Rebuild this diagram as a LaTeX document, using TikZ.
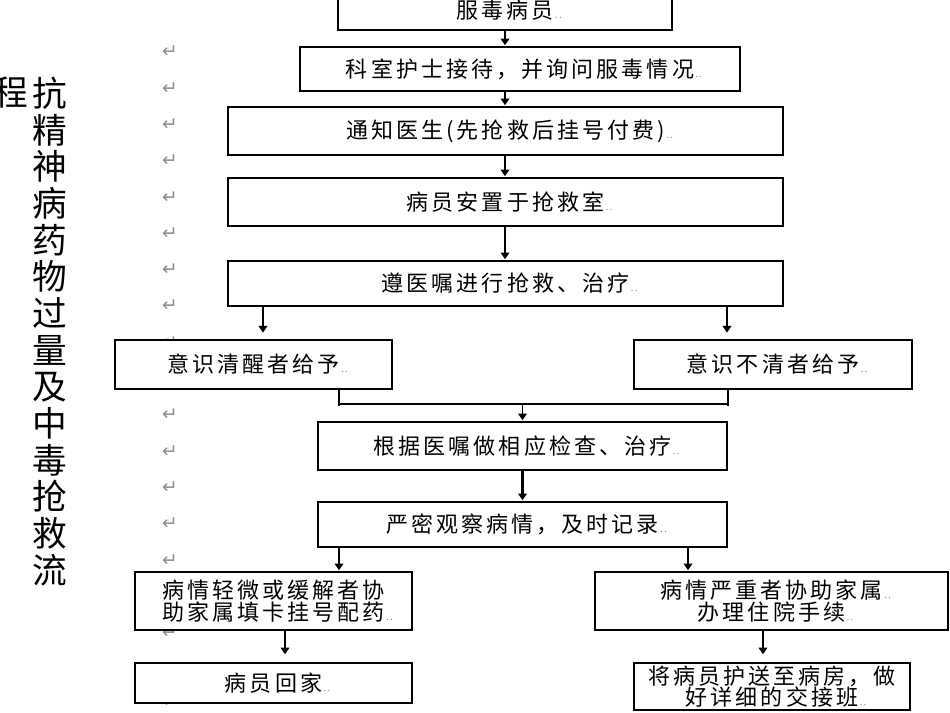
\documentclass[tikz,border=0pt]{standalone}
\usepackage{fontspec}
\setmainfont{Noto Sans CJK SC}
\newfontfamily\boxfont{Noto Sans CJK SC}[LetterSpace=14]
\newfontfamily\symfont{DejaVu Sans}
\usetikzlibrary{arrows.meta}
\tikzset{
  box/.style={draw, line width=1.1pt, fill=white, inner sep=0pt, align=center,
    font=\boxfont\fontsize{16.5}{16.2}\selectfont},
  arr/.style={line width=1.4pt, -{Triangle[width=6.5pt,length=5pt]}, shorten >=0.8pt},
  joinline/.style={line width=1.1pt},
  retmark/.style={font=\symfont\fontsize{14}{14}\selectfont, text=gray!90, inner sep=0pt},
  titletext/.style={font=\fontsize{26}{27.5}\selectfont, align=center, inner sep=0pt},
}
\newcommand\trail{\rlap{\textcolor{gray}{\fontsize{7}{7}\selectfont\,..}}}
\begin{document}
\begin{tikzpicture}[x=0.75pt,y=-0.75pt]
\useasboundingbox (0,0) rectangle (950,713);
% paragraph marks (those fully hidden behind boxes are left out)
\foreach \k in {0,...,8,10,11,12,13,14,16} { \node[retmark] (rm\k) at (170,{52+36.3*\k}) {↵}; }
\node[retmark] (rm18) at (170,702) {↵};
% vertical title
\node[titletext] (title) at (50,331.5) {抗\\精\\神\\病\\药\\物\\过\\量\\及\\中\\毒\\抢\\救\\流};
\node[titletext] (title2) at (11,93) {程};
% boxes
\node[box, minimum width=250.5pt, minimum height=30pt] (b1) at (505,10) {服毒病员\trail};
\node[box, minimum width=330pt, minimum height=33pt] (b2) at (520,69) {科室护士接待，并询问服毒情况\trail};
\node[box, minimum width=416.25pt, minimum height=36pt] (b3) at (505.5,131) {通知医生(先抢救后挂号付费)\trail};
\node[box, minimum width=416.25pt, minimum height=36pt] (b4) at (505.5,202) {病员安置于抢救室\trail};
\node[box, minimum width=416.25pt, minimum height=33.75pt] (b5) at (505.5,283.5) {遵医嘱进行抢救、治疗\trail};
\node[box, minimum width=207.75pt, minimum height=36.75pt] (l6) at (253.5,364.5) {意识清醒者给予\trail};
\node[box, minimum width=208.5pt, minimum height=36.75pt] (r6) at (773,364.5) {意识不清者给予\trail};
\node[box, minimum width=306.75pt, minimum height=36pt] (b7) at (522.5,446) {根据医嘱做相应检查、治疗\trail};
\node[box, minimum width=306.75pt, minimum height=33.75pt] (b8) at (522.5,524.5) {严密观察病情，及时记录\trail};
\node[box, minimum width=207.75pt, minimum height=43.5pt] (l9) at (273.5,601) {病情轻微或缓解者协\\助家属填卡挂号配药\trail};
\node[box, minimum width=264.75pt, minimum height=43.5pt] (r9) at (771.5,601) {病情严重者协助家属\trail\\办理住院手续\trail};
\node[box, minimum width=207.75pt, minimum height=30pt] (l10) at (273.5,683) {病员回家\trail};
\node[box, minimum width=207pt, minimum height=35.25pt] (r10) at (772,686.5) {将病员护送至病房，做\\好详细的交接班\trail};
% connector x positions
\coordinate (x5L) at (263,0);
\coordinate (x5R) at (727,0);
\coordinate (jL) at (339,404);
\coordinate (jR) at (728,404);
\coordinate (x8R) at (688,0);
\coordinate (x9L) at (285,0);
\coordinate (x9R) at (763,0);
% connectors
\draw[arr] (b1.south) -- (b2.north -| b1.south);
\draw[arr] (b2.south -| b1.south) -- (b3.north -| b1.south);
\draw[arr] (b3.south -| b1.south) -- (b4.north -| b1.south);
\draw[arr] (b4.south -| b1.south) -- (b5.north -| b1.south);
\draw[arr, shorten >=5pt] (b5.south -| x5L) -- (l6.north -| x5L);
\draw[arr, shorten >=5pt] (b5.south -| x5R) -- (r6.north -| x5R);
\draw[joinline] (l6.south -| jL) -- ([yshift=-1.5pt]jL);
\draw[joinline] (r6.south -| jR) -- ([yshift=-1.5pt]jR);
\draw[joinline] (jL) -- (jR);
\draw[arr] (jL -| b7.north) -- (b7.north);
\draw[arr, line width=2.2pt] (b7.south) -- (b8.north);
\draw[arr] (b8.south -| jL) -- (l9.north -| jL);
\draw[arr] (b8.south -| x8R) -- (r9.north -| x8R);
\draw[arr, shorten >=6pt] (l9.south -| x9L) -- (l10.north -| x9L);
\draw[arr, shorten >=6pt] (r9.south -| x9R) -- (r10.north -| x9R);
\end{tikzpicture}
\end{document}
